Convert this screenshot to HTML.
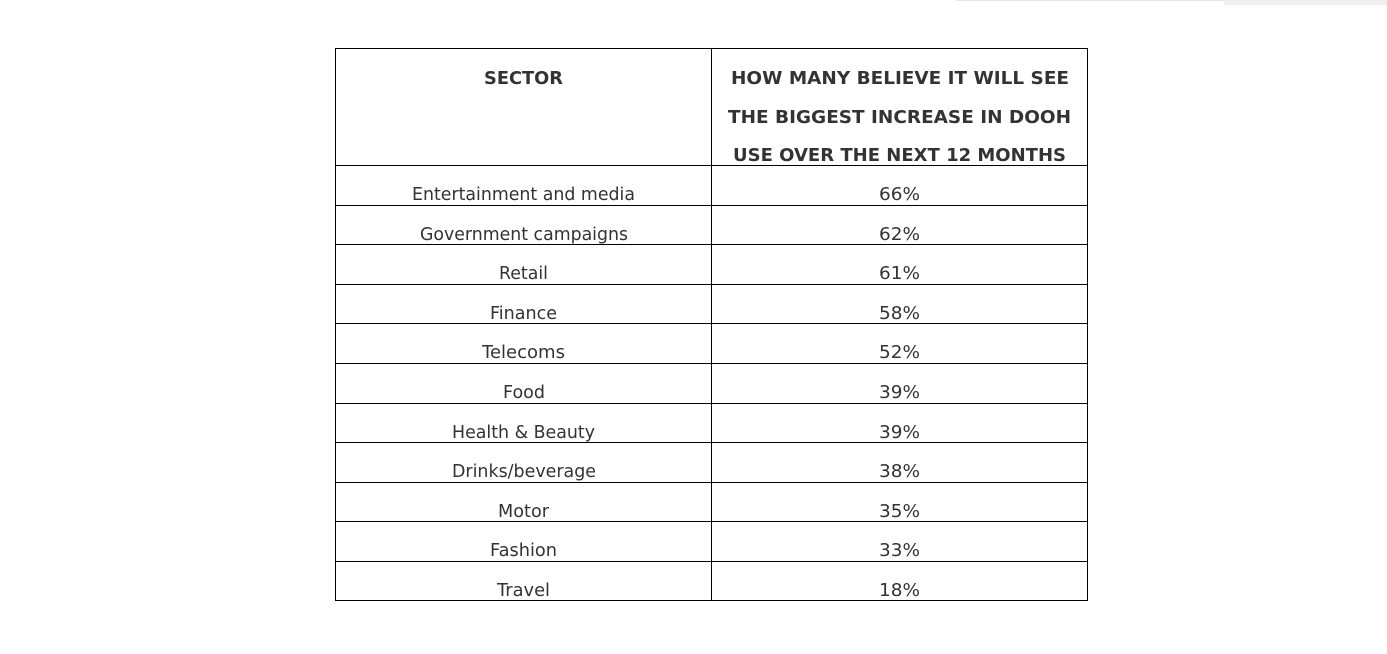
<!DOCTYPE html>
<html><head><meta charset="utf-8"><style>
html,body{margin:0;padding:0;background:#fff;}
svg{display:block;}
text{font-family:"DejaVu Sans","Liberation Sans",sans-serif;fill:#333;}
.h{font-weight:bold;font-size:18px;}
.d{font-size:18px;}
</style></head><body>
<svg width="1387" height="654" xmlns="http://www.w3.org/2000/svg">
<rect x="956" y="0" width="268" height="1" fill="#e6e6e6"/>
<rect x="1224" y="0" width="163" height="5" fill="#f0f0f0"/>
<g stroke="#000" stroke-width="1" shape-rendering="crispEdges" fill="none">
<rect x="335.5" y="48.5" width="752" height="552"/>
<line x1="711.5" y1="48" x2="711.5" y2="601"/>
<line x1="335" y1="165.5" x2="1088" y2="165.5"/>
<line x1="335" y1="205.5" x2="1088" y2="205.5"/>
<line x1="335" y1="244.5" x2="1088" y2="244.5"/>
<line x1="335" y1="284.5" x2="1088" y2="284.5"/>
<line x1="335" y1="323.5" x2="1088" y2="323.5"/>
<line x1="335" y1="363.5" x2="1088" y2="363.5"/>
<line x1="335" y1="403.5" x2="1088" y2="403.5"/>
<line x1="335" y1="442.5" x2="1088" y2="442.5"/>
<line x1="335" y1="482.5" x2="1088" y2="482.5"/>
<line x1="335" y1="521.5" x2="1088" y2="521.5"/>
<line x1="335" y1="561.5" x2="1088" y2="561.5"/>
</g>
<g text-anchor="start">
<text class="h" x="484" y="84" textLength="79" lengthAdjust="spacingAndGlyphs">SECTOR</text>
<text class="h" x="731" y="84" textLength="338" lengthAdjust="spacingAndGlyphs">HOW MANY BELIEVE IT WILL SEE</text>
<text class="h" x="728" y="123" textLength="343" lengthAdjust="spacingAndGlyphs">THE BIGGEST INCREASE IN DOOH</text>
<text class="h" x="733" y="161" textLength="333" lengthAdjust="spacingAndGlyphs">USE OVER THE NEXT 12 MONTHS</text>

<text class="d" x="412" y="200" textLength="223" lengthAdjust="spacingAndGlyphs">Entertainment and media</text>
<text class="d" x="420" y="240" textLength="208" lengthAdjust="spacingAndGlyphs">Government campaigns</text>
<text class="d" x="499" y="279" textLength="49" lengthAdjust="spacingAndGlyphs">Retail</text>
<text class="d" x="490" y="319" textLength="67" lengthAdjust="spacingAndGlyphs">Finance</text>
<text class="d" x="482" y="358" textLength="83" lengthAdjust="spacingAndGlyphs">Telecoms</text>
<text class="d" x="503" y="398" textLength="42" lengthAdjust="spacingAndGlyphs">Food</text>
<text class="d" x="452" y="438" textLength="143" lengthAdjust="spacingAndGlyphs">Health &amp; Beauty</text>
<text class="d" x="452" y="477" textLength="144" lengthAdjust="spacingAndGlyphs">Drinks/beverage</text>
<text class="d" x="498" y="517" textLength="51" lengthAdjust="spacingAndGlyphs">Motor</text>
<text class="d" x="490" y="556" textLength="67" lengthAdjust="spacingAndGlyphs">Fashion</text>
<text class="d" x="497" y="596" textLength="53" lengthAdjust="spacingAndGlyphs">Travel</text>

<text class="d" x="879" y="200" textLength="41" lengthAdjust="spacingAndGlyphs">66%</text>
<text class="d" x="879" y="240" textLength="41" lengthAdjust="spacingAndGlyphs">62%</text>
<text class="d" x="879" y="279" textLength="41" lengthAdjust="spacingAndGlyphs">61%</text>
<text class="d" x="879" y="319" textLength="41" lengthAdjust="spacingAndGlyphs">58%</text>
<text class="d" x="879" y="358" textLength="41" lengthAdjust="spacingAndGlyphs">52%</text>
<text class="d" x="879" y="398" textLength="41" lengthAdjust="spacingAndGlyphs">39%</text>
<text class="d" x="879" y="438" textLength="41" lengthAdjust="spacingAndGlyphs">39%</text>
<text class="d" x="879" y="477" textLength="41" lengthAdjust="spacingAndGlyphs">38%</text>
<text class="d" x="879" y="517" textLength="41" lengthAdjust="spacingAndGlyphs">35%</text>
<text class="d" x="879" y="556" textLength="41" lengthAdjust="spacingAndGlyphs">33%</text>
<text class="d" x="879" y="596" textLength="41" lengthAdjust="spacingAndGlyphs">18%</text>
</g>
</svg>
</body></html>
